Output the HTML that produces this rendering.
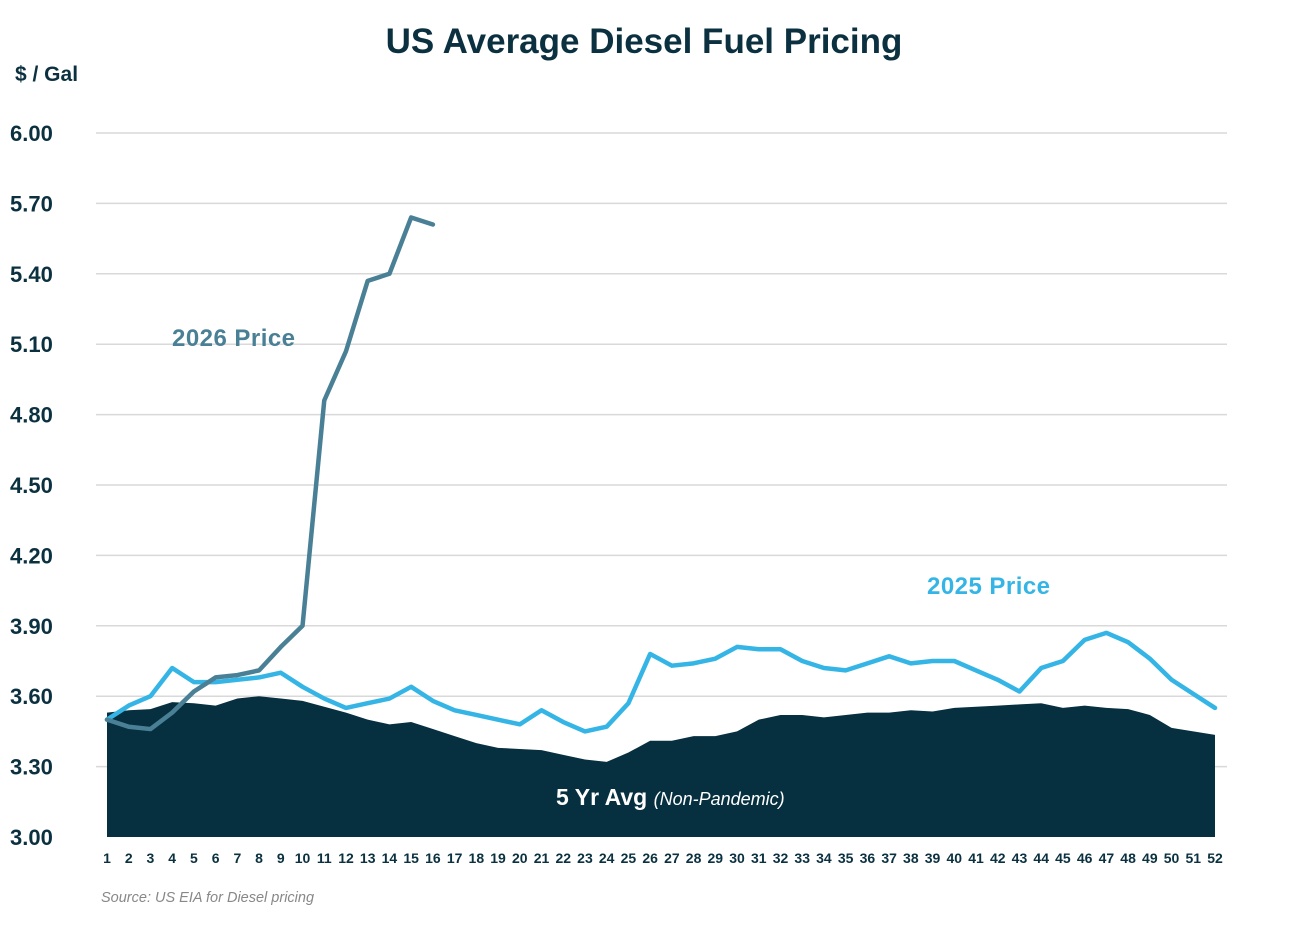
<!DOCTYPE html>
<html><head><meta charset="utf-8"><style>
html,body{margin:0;padding:0;background:#fff;}
svg{display:block;font-family:"Liberation Sans",sans-serif;}
</style></head><body>
<svg id="chart" width="1296" height="934">
<text x="644" y="53" text-anchor="middle" font-size="35" font-weight="bold" fill="#0b3140">US Average Diesel Fuel Pricing</text>
<text x="15" y="81" font-size="21" font-weight="bold" fill="#0b3140">$ / Gal</text>
<g id="grid"></g><g id="area"></g><g id="lines"></g><g id="xt"></g>
<text x="172" y="346" font-size="24" font-weight="bold" fill="#4a8096" textLength="123">2026 Price</text>
<text x="927" y="594" font-size="24" font-weight="bold" fill="#35b5e5" textLength="123">2025 Price</text>
<text x="556" y="805" font-size="23" font-weight="bold" fill="#fff">5 Yr Avg <tspan font-size="18" font-weight="normal" font-style="italic">(Non-Pandemic)</tspan></text>
<text x="101" y="902" font-size="14.5" font-style="italic" fill="#888">Source:  US EIA for Diesel pricing</text>
</svg>
<script>
const yTicks=[3.00,3.30,3.60,3.90,4.20,4.50,4.80,5.10,5.40,5.70,6.00];
const price2026=[3.50,3.47,3.46,3.53,3.62,3.68,3.69,3.71,3.81,3.90,4.86,5.07,5.37,5.40,5.64,5.61];
const price2025=[3.50,3.56,3.60,3.72,3.66,3.66,3.67,3.68,3.70,3.64,3.59,3.55,3.57,3.59,3.64,3.58,3.54,3.52,3.50,3.48,3.54,3.49,3.45,3.47,3.57,3.78,3.73,3.74,3.76,3.81,3.80,3.80,3.75,3.72,3.71,3.74,3.77,3.74,3.75,3.75,3.71,3.67,3.62,3.72,3.75,3.84,3.87,3.83,3.76,3.67,3.61,3.55];
const avg5yr=[3.53,3.54,3.545,3.575,3.57,3.56,3.59,3.60,3.59,3.58,3.555,3.53,3.50,3.48,3.49,3.46,3.43,3.40,3.38,3.375,3.37,3.35,3.33,3.32,3.36,3.41,3.41,3.43,3.43,3.45,3.50,3.52,3.52,3.51,3.52,3.53,3.53,3.54,3.535,3.55,3.555,3.56,3.565,3.57,3.55,3.56,3.55,3.545,3.52,3.465,3.45,3.435];
const NS="http://www.w3.org/2000/svg";
const y=v=>837-(v-3)*234.67;
const x=i=>107+i*(1108/51);
function mk(t,a,p){const e=document.createElementNS(NS,t);for(const k in a)e.setAttribute(k,a[k]);document.getElementById(p).appendChild(e);return e;}
yTicks.forEach(v=>{
 if(v>3){const l=mk('line',{x1:96,x2:1227,y1:y(v),y2:y(v),stroke:'#d9d9d9','stroke-width':1.5},'grid');
 
 }
 const t=mk('text',{x:10,y:y(v)+8,'font-size':22,'font-weight':'bold',fill:'#0b3140'},'grid');
 t.textContent=v.toFixed(2);
 
 
});
let d='M'+x(0)+','+y(3);
avg5yr.forEach((v,i)=>d+=' L'+x(i)+','+y(v));
d+=' L'+x(avg5yr.length-1)+','+y(3)+' Z';
const a=mk('path',{d:d,fill:'#062f40'},'area');


function line(arr,c,n){const p=mk('polyline',{points:arr.map((v,i)=>x(i)+','+y(v)).join(' '),fill:'none',stroke:c,'stroke-width':4.5,'stroke-linejoin':'round','stroke-linecap':'round'},'lines');
 
 }
line(price2025,'#35b5e5','line-2025-price');
line(price2026,'#4a8096','line-2026-price');
for(let i=0;i<52;i++){const t=mk('text',{x:x(i),y:863,'font-size':14,'font-weight':'bold',fill:'#0b3140','text-anchor':'middle'},'xt');
 t.textContent=String(i+1);
 
 }
</script>
</body></html>
